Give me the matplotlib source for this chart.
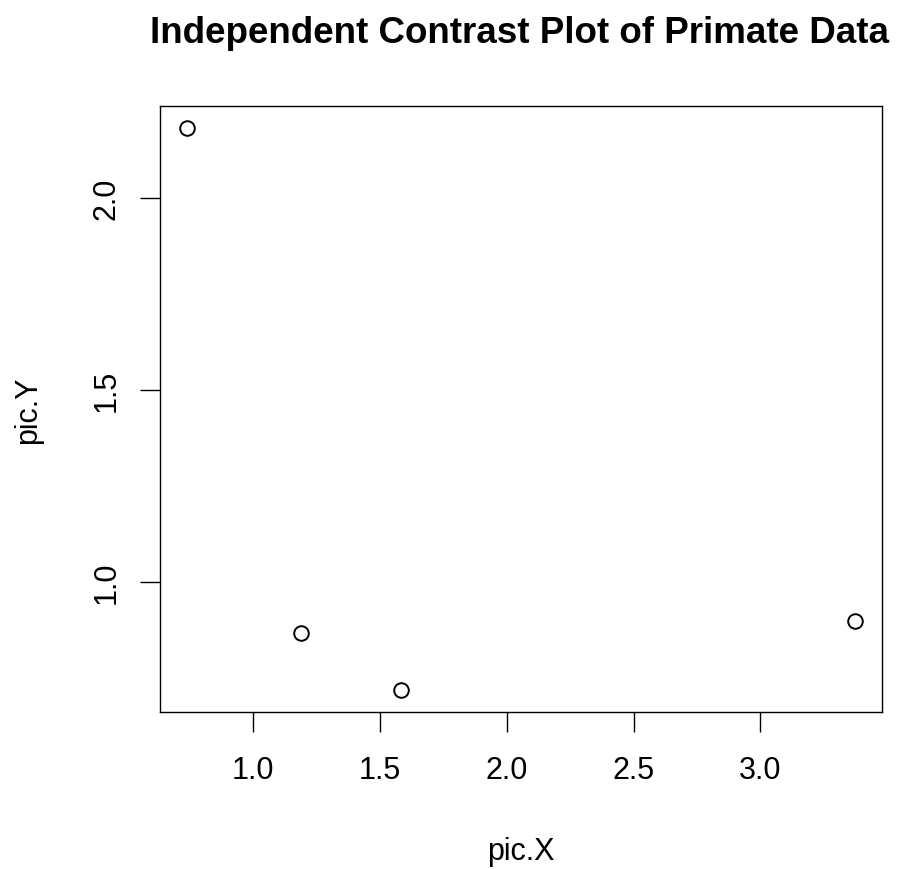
import numpy as np
import matplotlib.pyplot as plt

plt.rcParams["font.family"] = ["Liberation Sans", "DejaVu Sans"]

pic_x = [0.740, 1.190, 1.585, 3.374]
pic_y = [2.181, 0.868, 0.719, 0.898]
x_ticks = [1.0, 1.5, 2.0, 2.5, 3.0]
y_ticks = [1.0, 1.5, 2.0]

W, H = 902, 870
fig = plt.figure(figsize=(W / 100, H / 100), dpi=100)
ax = fig.add_axes([160.3 / W, (H - 713.4) / H, (882 - 160.3) / W, (713.4 - 106.7) / H])

ax.plot(pic_x, pic_y, linestyle="none", marker="o", markersize=10.5,
        markerfacecolor="white", markeredgecolor="black", markeredgewidth=1.4)

# R style 4% padding
def pad(v):
    lo, hi = min(v), max(v)
    d = (hi - lo) * 0.04
    return lo - d, hi + d

ax.set_xlim(*pad(pic_x))
ax.set_ylim(*pad(pic_y))
ax.set_xticks(x_ticks)
ax.set_yticks(y_ticks)
ax.set_xticklabels([f"{t:.1f}" for t in x_ticks])
ax.set_yticklabels([f"{t:.1f}" for t in y_ticks], rotation=90, va="center")

for s in ax.spines.values():
    s.set_linewidth(1.0)
ax.tick_params(axis="both", direction="out", length=14.4, width=1.0, labelsize=22)
ax.tick_params(axis="x", pad=16.5)
ax.tick_params(axis="y", pad=13.3)

fig.text(521 / W, 1 - 860 / H, "pic.X", ha="center", va="baseline", fontsize=22)
fig.text(36 / W, 1 - 410 / H, "pic.Y", ha="center", va="baseline", fontsize=22,
         rotation=90, rotation_mode="anchor")
fig.text(520 / W, 1 - 42.7 / H, "Independent Contrast Plot of Primate Data",
         ha="center", va="baseline", fontsize=26.5, fontweight="bold")

fig.savefig("out.png", dpi=100)
